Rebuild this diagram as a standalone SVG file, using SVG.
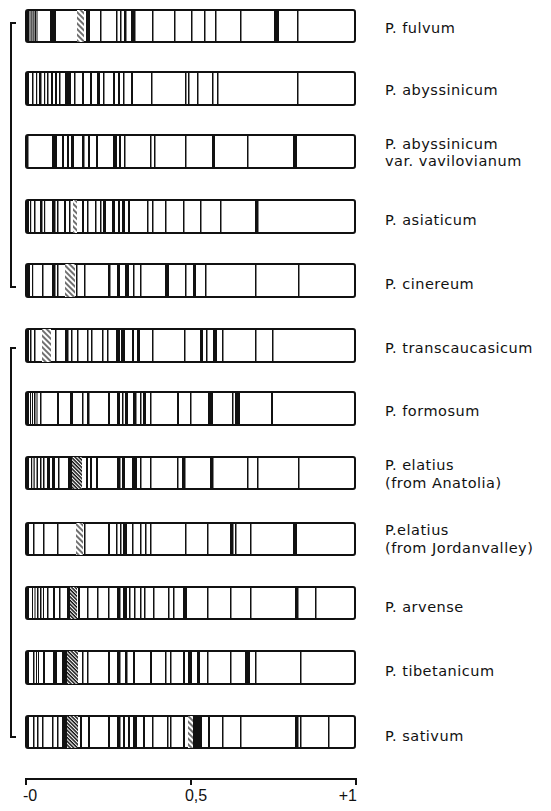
<svg xmlns="http://www.w3.org/2000/svg" width="551" height="811" viewBox="0 0 551 811">
<style>
.frame{fill:#fff;stroke:#111;stroke-width:2}
.b{fill:#111}
.h{fill:url(#hatch)}
.d{fill:url(#dense)}
.lbl{font-family:"DejaVu Sans",sans-serif;font-size:14.5px;letter-spacing:0.5px;fill:#111}
.ax{font-family:"Liberation Sans",sans-serif;font-size:16px;fill:#111}
.ln{fill:none;stroke:#111;stroke-width:2}
</style>
<defs>
<pattern id="hatch" width="4" height="4" patternUnits="userSpaceOnUse" patternTransform="rotate(-45)"><rect width="4" height="4" fill="#fff"/><line x1="1" y1="0" x2="1" y2="4" stroke="#111" stroke-width="1.2"/></pattern>
<pattern id="dense" width="2.6" height="2.6" patternUnits="userSpaceOnUse" patternTransform="rotate(-45)"><rect width="2.6" height="2.6" fill="#fff"/><line x1="1" y1="0" x2="1" y2="2.6" stroke="#111" stroke-width="1.5"/></pattern>
</defs>
<rect width="551" height="811" fill="#fff"/>

<g id="connectors">
<path class="ln" d="M16,23 H11 V287 H16"/>
<path class="ln" d="M16,348 H11 V737 H16"/>
</g>

<g id="bar1" transform="translate(0,10)">
<rect class="frame" x="26" y="0" width="329" height="32" rx="2"/>
<rect class="b" x="26" y="0" width="3.5" height="32"/><rect class="b" x="30.5" y="0" width="1.2" height="32"/><rect class="b" x="32.5" y="0" width="1.2" height="32"/><rect class="b" x="34.5" y="0" width="1.5" height="32"/><rect class="b" x="36.5" y="0" width="1" height="32"/>
<rect class="b" x="50" y="0" width="6" height="32"/><rect class="h" x="77" y="0" width="7" height="32"/><rect class="b" x="86" y="0" width="4" height="32"/><rect class="b" x="100" y="0" width="1.5" height="32"/><rect class="b" x="116" y="0" width="1.5" height="32"/><rect class="b" x="120" y="0" width="1.5" height="32"/><rect class="b" x="124" y="0" width="2.5" height="32"/><rect class="b" x="131" y="0" width="4.5" height="32"/><rect class="b" x="152" y="0" width="1.5" height="32"/><rect class="b" x="174" y="0" width="1.5" height="32"/><rect class="b" x="191" y="0" width="1.5" height="32"/><rect class="b" x="204" y="0" width="1.5" height="32"/><rect class="b" x="215" y="0" width="1.5" height="32"/><rect class="b" x="240" y="0" width="1.5" height="32"/><rect class="b" x="274" y="0" width="5" height="32"/><rect class="b" x="297" y="0" width="1.5" height="32"/>
<text class="lbl" x="385" y="23">P. fulvum</text>
</g>

<g id="bar2" transform="translate(0,72)">
<rect class="frame" x="26" y="0" width="329" height="33" rx="2"/>
<rect class="b" x="26" y="0" width="3" height="33"/><rect class="b" x="32" y="0" width="1.5" height="33"/><rect class="b" x="36" y="0" width="1.2" height="33"/><rect class="b" x="39" y="0" width="2.5" height="33"/><rect class="b" x="44" y="0" width="1.2" height="33"/><rect class="b" x="47" y="0" width="1.5" height="33"/><rect class="b" x="51" y="0" width="2" height="33"/><rect class="b" x="55" y="0" width="2" height="33"/><rect class="b" x="59" y="0" width="1.5" height="33"/><rect class="b" x="65" y="0" width="6" height="33"/><rect class="b" x="74" y="0" width="1.5" height="33"/><rect class="b" x="82" y="0" width="2" height="33"/><rect class="b" x="90" y="0" width="2" height="33"/><rect class="b" x="97" y="0" width="3" height="33"/><rect class="b" x="103" y="0" width="1.5" height="33"/><rect class="b" x="113" y="0" width="2" height="33"/><rect class="b" x="118" y="0" width="2" height="33"/><rect class="b" x="123" y="0" width="1.5" height="33"/><rect class="b" x="131" y="0" width="2" height="33"/><rect class="b" x="151" y="0" width="1.5" height="33"/><rect class="b" x="185" y="0" width="1.5" height="33"/><rect class="b" x="188" y="0" width="1.5" height="33"/><rect class="b" x="197" y="0" width="1.5" height="33"/><rect class="b" x="212" y="0" width="1.5" height="33"/><rect class="b" x="217" y="0" width="1.5" height="33"/><rect class="b" x="297" y="0" width="1.5" height="33"/>
<text class="lbl" x="385" y="23">P. abyssinicum</text>
</g>

<g id="bar3" transform="translate(0,135)">
<rect class="frame" x="26" y="0" width="329" height="33" rx="2"/>
<rect class="b" x="26" y="0" width="2.5" height="33"/><rect class="b" x="52" y="0" width="5" height="33"/><rect class="b" x="62" y="0" width="2" height="33"/><rect class="b" x="67" y="0" width="2" height="33"/><rect class="b" x="71" y="0" width="3" height="33"/><rect class="b" x="82" y="0" width="2.5" height="33"/><rect class="b" x="88" y="0" width="2" height="33"/><rect class="b" x="96" y="0" width="2" height="33"/><rect class="b" x="113" y="0" width="4" height="33"/><rect class="b" x="119" y="0" width="2" height="33"/><rect class="b" x="124" y="0" width="1.5" height="33"/><rect class="b" x="150" y="0" width="1.5" height="33"/><rect class="b" x="154" y="0" width="1.5" height="33"/><rect class="b" x="185" y="0" width="1.5" height="33"/><rect class="b" x="212" y="0" width="3" height="33"/><rect class="b" x="247" y="0" width="1.5" height="33"/><rect class="b" x="293" y="0" width="4" height="33"/>
<text class="lbl" x="385" y="14">P. abyssinicum</text>
<text class="lbl" x="385" y="31">var. vavilovianum</text>
</g>

<g id="bar4" transform="translate(0,200)">
<rect class="frame" x="26" y="0" width="329" height="33" rx="2"/>
<rect class="b" x="26" y="0" width="3" height="33"/><rect class="b" x="30" y="0" width="1.2" height="33"/><rect class="b" x="34" y="0" width="1.5" height="33"/><rect class="b" x="40" y="0" width="2.5" height="33"/><rect class="b" x="44" y="0" width="1.2" height="33"/><rect class="b" x="52" y="0" width="3.5" height="33"/><rect class="b" x="57" y="0" width="1.5" height="33"/><rect class="b" x="64" y="0" width="2" height="33"/><rect class="b" x="69" y="0" width="1.5" height="33"/><rect class="h" x="73" y="0" width="4" height="33"/><rect class="b" x="82" y="0" width="2" height="33"/><rect class="b" x="87" y="0" width="1.5" height="33"/><rect class="b" x="95" y="0" width="1.5" height="33"/><rect class="b" x="100" y="0" width="1.5" height="33"/><rect class="b" x="103" y="0" width="3" height="33"/><rect class="b" x="112" y="0" width="3" height="33"/><rect class="b" x="118" y="0" width="2" height="33"/><rect class="b" x="122" y="0" width="3" height="33"/><rect class="b" x="128" y="0" width="2" height="33"/><rect class="b" x="147" y="0" width="1.5" height="33"/><rect class="b" x="152" y="0" width="1.5" height="33"/><rect class="b" x="165" y="0" width="1.5" height="33"/><rect class="b" x="183" y="0" width="1.5" height="33"/><rect class="b" x="200" y="0" width="1.5" height="33"/><rect class="b" x="220" y="0" width="1.5" height="33"/><rect class="b" x="255" y="0" width="3.5" height="33"/>
<text class="lbl" x="385" y="25">P. asiaticum</text>
</g>

<g id="bar5" transform="translate(0,264)">
<rect class="frame" x="26" y="0" width="329" height="33" rx="2"/>
<rect class="b" x="26" y="0" width="4" height="33"/><rect class="b" x="32" y="0" width="1.2" height="33"/><rect class="b" x="42" y="0" width="1.5" height="33"/><rect class="b" x="52" y="0" width="3.5" height="33"/><rect class="b" x="57" y="0" width="1.5" height="33"/><rect class="h" x="65" y="0" width="10" height="33"/><rect class="b" x="76" y="0" width="1.5" height="33"/><rect class="b" x="84" y="0" width="1.5" height="33"/><rect class="b" x="108" y="0" width="2.5" height="33"/><rect class="b" x="117" y="0" width="3" height="33"/><rect class="b" x="125" y="0" width="4" height="33"/><rect class="b" x="133" y="0" width="1.5" height="33"/><rect class="b" x="140" y="0" width="1.5" height="33"/><rect class="b" x="165" y="0" width="4" height="33"/><rect class="b" x="185" y="0" width="1.5" height="33"/><rect class="b" x="193" y="0" width="3" height="33"/><rect class="b" x="205" y="0" width="1.5" height="33"/><rect class="b" x="255" y="0" width="1.5" height="33"/><rect class="b" x="298" y="0" width="1.5" height="33"/>
<text class="lbl" x="385" y="25">P. cinereum</text>
</g>

<g id="bar6" transform="translate(0,329)">
<rect class="frame" x="26" y="0" width="329" height="33" rx="2"/>
<rect class="b" x="26" y="0" width="3" height="33"/><rect class="b" x="30" y="0" width="1.5" height="33"/><rect class="b" x="34" y="0" width="1.5" height="33"/><rect class="h" x="42" y="0" width="9" height="33"/><rect class="b" x="55" y="0" width="1.5" height="33"/><rect class="b" x="65" y="0" width="3.5" height="33"/><rect class="b" x="71" y="0" width="1.5" height="33"/><rect class="b" x="77" y="0" width="1.5" height="33"/><rect class="b" x="87" y="0" width="1.5" height="33"/><rect class="b" x="91" y="0" width="1.5" height="33"/><rect class="b" x="102" y="0" width="1.5" height="33"/><rect class="b" x="107" y="0" width="1.5" height="33"/><rect class="b" x="116" y="0" width="4" height="33"/><rect class="b" x="121" y="0" width="4" height="33"/><rect class="b" x="132" y="0" width="2" height="33"/><rect class="b" x="137" y="0" width="3" height="33"/><rect class="b" x="152" y="0" width="1.5" height="33"/><rect class="b" x="184" y="0" width="1.5" height="33"/><rect class="b" x="200" y="0" width="3" height="33"/><rect class="b" x="206" y="0" width="1.5" height="33"/><rect class="b" x="213" y="0" width="4" height="33"/><rect class="b" x="222" y="0" width="1.5" height="33"/><rect class="b" x="255" y="0" width="1.5" height="33"/><rect class="b" x="272" y="0" width="1.5" height="33"/>
<text class="lbl" x="385" y="24">P. transcaucasicum</text>
</g>

<g id="bar7" transform="translate(0,392)">
<rect class="frame" x="26" y="0" width="329" height="33" rx="2"/>
<rect class="b" x="26" y="0" width="3" height="33"/><rect class="b" x="30" y="0" width="1" height="33"/><rect class="b" x="32" y="0" width="1" height="33"/><rect class="b" x="34" y="0" width="1.5" height="33"/><rect class="b" x="36.5" y="0" width="1" height="33"/><rect class="b" x="40" y="0" width="1.5" height="33"/><rect class="b" x="57" y="0" width="2" height="33"/><rect class="b" x="70" y="0" width="3" height="33"/><rect class="b" x="82" y="0" width="1.5" height="33"/><rect class="b" x="87" y="0" width="2.5" height="33"/><rect class="b" x="108" y="0" width="2" height="33"/><rect class="b" x="117" y="0" width="3" height="33"/><rect class="b" x="122" y="0" width="1.5" height="33"/><rect class="b" x="125" y="0" width="3" height="33"/><rect class="b" x="133" y="0" width="3.5" height="33"/><rect class="b" x="140" y="0" width="1.5" height="33"/><rect class="b" x="143" y="0" width="3" height="33"/><rect class="b" x="150" y="0" width="1.5" height="33"/><rect class="b" x="177" y="0" width="2" height="33"/><rect class="b" x="190" y="0" width="1.5" height="33"/><rect class="b" x="208" y="0" width="5" height="33"/><rect class="b" x="232" y="0" width="1.5" height="33"/><rect class="b" x="235" y="0" width="5" height="33"/><rect class="b" x="271" y="0" width="2" height="33"/>
<text class="lbl" x="385" y="24">P. formosum</text>
</g>

<g id="bar8" transform="translate(0,457)">
<rect class="frame" x="26" y="0" width="329" height="32" rx="2"/>
<rect class="b" x="26" y="0" width="3" height="32"/><rect class="b" x="31" y="0" width="1.2" height="32"/><rect class="b" x="33.5" y="0" width="1.2" height="32"/><rect class="b" x="36.5" y="0" width="1.5" height="32"/><rect class="b" x="40" y="0" width="1.5" height="32"/><rect class="b" x="43" y="0" width="1.5" height="32"/><rect class="b" x="47" y="0" width="3" height="32"/><rect class="b" x="52" y="0" width="3" height="32"/><rect class="b" x="58" y="0" width="1.5" height="32"/><rect class="b" x="68" y="0" width="4" height="32"/><rect class="d" x="72" y="0" width="10" height="32"/><rect class="b" x="86" y="0" width="2" height="32"/><rect class="b" x="90" y="0" width="2" height="32"/><rect class="b" x="96" y="0" width="2" height="32"/><rect class="b" x="117" y="0" width="3.5" height="32"/><rect class="b" x="122" y="0" width="3" height="32"/><rect class="b" x="132" y="0" width="5" height="32"/><rect class="b" x="140" y="0" width="1.5" height="32"/><rect class="b" x="150" y="0" width="1.5" height="32"/><rect class="b" x="177" y="0" width="1.5" height="32"/><rect class="b" x="182" y="0" width="3.5" height="32"/><rect class="b" x="210" y="0" width="3.5" height="32"/><rect class="b" x="247" y="0" width="1.5" height="32"/><rect class="b" x="257" y="0" width="1.5" height="32"/><rect class="b" x="298" y="0" width="1.5" height="32"/>
<text class="lbl" x="385" y="13">P. elatius</text>
<text class="lbl" x="385" y="31">(from Anatolia)</text>
</g>

<g id="bar9" transform="translate(0,523)">
<rect class="frame" x="26" y="0" width="329" height="32" rx="2"/>
<rect class="b" x="26" y="0" width="3" height="32"/><rect class="b" x="33" y="0" width="1.5" height="32"/><rect class="b" x="43" y="0" width="1.5" height="32"/><rect class="b" x="57" y="0" width="1.5" height="32"/><rect class="h" x="76" y="0" width="7" height="32"/><rect class="b" x="84" y="0" width="1.5" height="32"/><rect class="b" x="108" y="0" width="2" height="32"/><rect class="b" x="116" y="0" width="1.5" height="32"/><rect class="b" x="120" y="0" width="1.5" height="32"/><rect class="b" x="123" y="0" width="4" height="32"/><rect class="b" x="132" y="0" width="1.5" height="32"/><rect class="b" x="140" y="0" width="1.5" height="32"/><rect class="b" x="145" y="0" width="1.5" height="32"/><rect class="b" x="150" y="0" width="1.5" height="32"/><rect class="b" x="185" y="0" width="1.5" height="32"/><rect class="b" x="207" y="0" width="1.5" height="32"/><rect class="b" x="230" y="0" width="3.5" height="32"/><rect class="b" x="235" y="0" width="1.5" height="32"/><rect class="b" x="250" y="0" width="1.5" height="32"/><rect class="b" x="293" y="0" width="4" height="32"/>
<text class="lbl" x="385" y="12">P.elatius</text>
<text class="lbl" x="385" y="30">(from Jordanvalley)</text>
</g>

<g id="bar10" transform="translate(0,587)">
<rect class="frame" x="26" y="0" width="329" height="32" rx="2"/>
<rect class="b" x="26" y="0" width="3" height="32"/><rect class="b" x="32" y="0" width="1" height="32"/><rect class="b" x="34.5" y="0" width="1" height="32"/><rect class="b" x="37" y="0" width="1.5" height="32"/><rect class="b" x="40" y="0" width="1.5" height="32"/><rect class="b" x="43" y="0" width="1" height="32"/><rect class="b" x="47" y="0" width="1.5" height="32"/><rect class="b" x="53" y="0" width="2" height="32"/><rect class="b" x="59" y="0" width="1.5" height="32"/><rect class="b" x="67" y="0" width="3" height="32"/><rect class="d" x="70" y="0" width="7" height="32"/><rect class="b" x="78" y="0" width="2" height="32"/><rect class="b" x="87" y="0" width="1.5" height="32"/><rect class="b" x="97" y="0" width="1.5" height="32"/><rect class="b" x="108" y="0" width="1.5" height="32"/><rect class="b" x="117" y="0" width="3.5" height="32"/><rect class="b" x="123" y="0" width="4" height="32"/><rect class="b" x="129" y="0" width="1.5" height="32"/><rect class="b" x="134" y="0" width="1.5" height="32"/><rect class="b" x="140" y="0" width="1.5" height="32"/><rect class="b" x="144" y="0" width="1.5" height="32"/><rect class="b" x="153" y="0" width="1.5" height="32"/><rect class="b" x="168" y="0" width="1.5" height="32"/><rect class="b" x="173" y="0" width="1.5" height="32"/><rect class="b" x="183" y="0" width="4" height="32"/><rect class="b" x="207" y="0" width="1.5" height="32"/><rect class="b" x="230" y="0" width="1.5" height="32"/><rect class="b" x="250" y="0" width="1.5" height="32"/><rect class="b" x="295" y="0" width="3.5" height="32"/><rect class="b" x="315" y="0" width="1.5" height="32"/>
<text class="lbl" x="385" y="25">P. arvense</text>
</g>

<g id="bar11" transform="translate(0,651)">
<rect class="frame" x="26" y="0" width="329" height="33" rx="2"/>
<rect class="b" x="26" y="0" width="3" height="33"/><rect class="b" x="33" y="0" width="1.5" height="33"/><rect class="b" x="36" y="0" width="1" height="33"/><rect class="b" x="38" y="0" width="1" height="33"/><rect class="b" x="43" y="0" width="2" height="33"/><rect class="b" x="53" y="0" width="4" height="33"/><rect class="b" x="62" y="0" width="5" height="33"/><rect class="d" x="67" y="0" width="11" height="33"/><rect class="b" x="82" y="0" width="1.5" height="33"/><rect class="b" x="87" y="0" width="1.5" height="33"/><rect class="b" x="108" y="0" width="2" height="33"/><rect class="b" x="117" y="0" width="3.5" height="33"/><rect class="b" x="125" y="0" width="2.5" height="33"/><rect class="b" x="133" y="0" width="2" height="33"/><rect class="b" x="150" y="0" width="2" height="33"/><rect class="b" x="165" y="0" width="1.5" height="33"/><rect class="b" x="170" y="0" width="1.5" height="33"/><rect class="b" x="183" y="0" width="2" height="33"/><rect class="b" x="188" y="0" width="4" height="33"/><rect class="b" x="197" y="0" width="3" height="33"/><rect class="b" x="207" y="0" width="1.5" height="33"/><rect class="b" x="230" y="0" width="1.5" height="33"/><rect class="b" x="245" y="0" width="5" height="33"/><rect class="b" x="255" y="0" width="1.5" height="33"/><rect class="b" x="300" y="0" width="1.5" height="33"/>
<text class="lbl" x="385" y="25">P. tibetanicum</text>
</g>

<g id="bar12" transform="translate(0,716)">
<rect class="frame" x="26" y="0" width="329" height="32" rx="2"/>
<rect class="b" x="26" y="0" width="3" height="32"/><rect class="b" x="33" y="0" width="1.5" height="32"/><rect class="b" x="37" y="0" width="1.5" height="32"/><rect class="b" x="42" y="0" width="1.5" height="32"/><rect class="b" x="52" y="0" width="1.5" height="32"/><rect class="b" x="57" y="0" width="1.5" height="32"/><rect class="b" x="62" y="0" width="5" height="32"/><rect class="d" x="67" y="0" width="11" height="32"/><rect class="b" x="80" y="0" width="2" height="32"/><rect class="b" x="88" y="0" width="2" height="32"/><rect class="b" x="108" y="0" width="2" height="32"/><rect class="b" x="117" y="0" width="3.5" height="32"/><rect class="b" x="123" y="0" width="2" height="32"/><rect class="b" x="128" y="0" width="2" height="32"/><rect class="b" x="133" y="0" width="4" height="32"/><rect class="b" x="143" y="0" width="2" height="32"/><rect class="b" x="152" y="0" width="1.5" height="32"/><rect class="b" x="167" y="0" width="1.5" height="32"/><rect class="b" x="170" y="0" width="1.5" height="32"/><rect class="b" x="183" y="0" width="2" height="32"/><rect class="h" x="188" y="0" width="5" height="32"/><rect class="b" x="193" y="0" width="9" height="32"/><rect class="b" x="208" y="0" width="2" height="32"/><rect class="b" x="222" y="0" width="1.5" height="32"/><rect class="b" x="240" y="0" width="1.5" height="32"/><rect class="b" x="295" y="0" width="3.5" height="32"/><rect class="b" x="300" y="0" width="1.5" height="32"/><rect class="b" x="328" y="0" width="1.5" height="32"/>
<text class="lbl" x="385" y="25">P. sativum</text>
</g>

<g id="axis">
<path class="ln" d="M26,785 V779 H356 V785 M191,779 V785"/>
<text class="ax" x="23" y="801">-0</text>
<text class="ax" x="196" y="801" text-anchor="middle">0,5</text>
<text class="ax" x="357" y="801" text-anchor="end">+1</text>
</g>
</svg>
